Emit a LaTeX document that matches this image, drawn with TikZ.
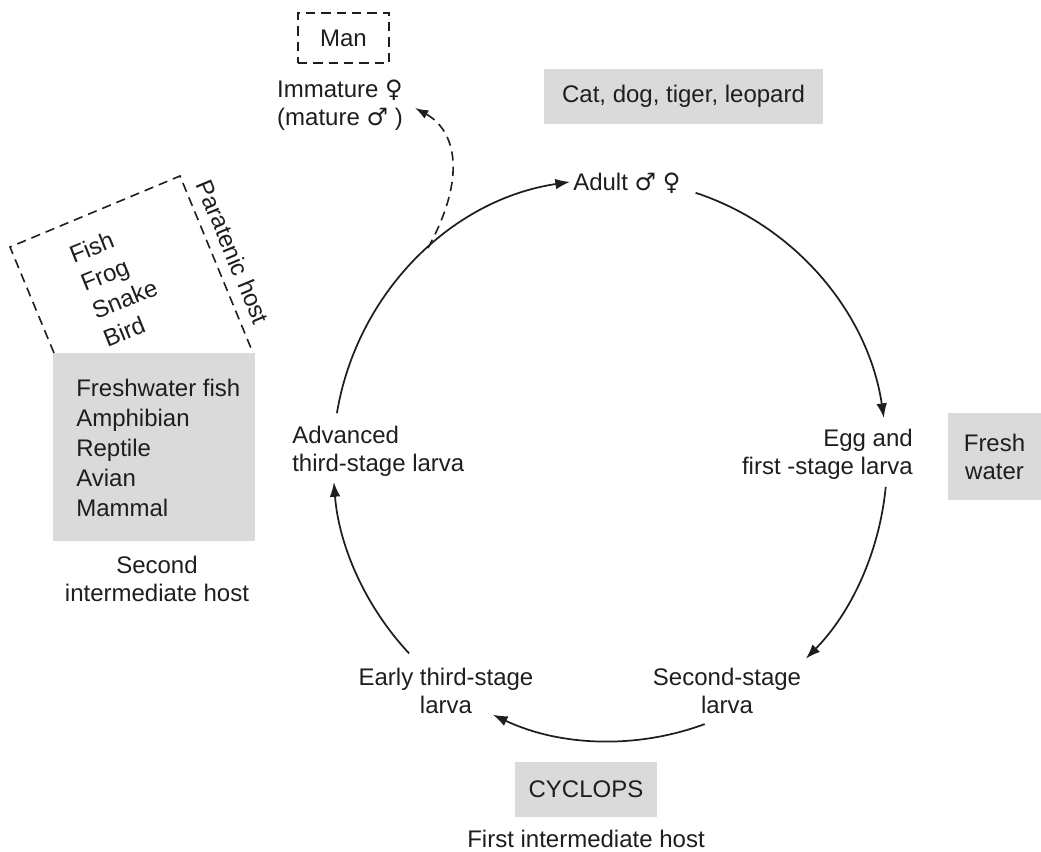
\documentclass[tikz,border=0pt]{standalone}
\usepackage{fontspec}
\setmainfont{Liberation Sans}
\newfontfamily\symfont{DejaVu Sans}
\usetikzlibrary{arrows.meta,calc}
\definecolor{boxgray}{RGB}{218,218,218}
\definecolor{ink}{RGB}{30,30,30}
\newcommand{\malesym}{{\symfont ♂}}
\newcommand{\femsym}{{\symfont ♀}}
\begin{document}
\begin{tikzpicture}[x=0.75pt,y=-0.75pt,
  lbl/.style={font=\fontsize{18}{21}\selectfont, inner sep=0pt, text=ink},
  listlbl/.style={font=\fontsize{18}{22.5}\selectfont, inner sep=0pt, text=ink},
  boxfill/.style={fill=boxgray, draw=none, inner sep=0pt},
  dashline/.style={draw=ink, line width=1.2pt, dash pattern=on 7pt off 4.5pt},
  cycarrow/.style={draw=ink, line width=1.3pt, -{Latex[length=11pt,width=8pt]}},
  dasharrow/.style={dashline, -{Latex[length=10pt,width=7pt]}}]
\useasboundingbox (0,0) rectangle (1041,852);

% grey host boxes
\node[boxfill, lbl, minimum width=209.25pt, minimum height=41.25pt] (catbox) at (683.5,96.5) {Cat, dog, tiger, leopard};
\node[boxfill, lbl, align=center, minimum width=69.75pt, minimum height=65.25pt] (freshbox) at (994.5,456.5) {Fresh\\water};
\node[boxfill, lbl, minimum width=106.5pt, minimum height=41.25pt] (cyclops) at (586,789.5) {CYCLOPS};
\node[boxfill, minimum width=151.5pt, minimum height=141pt] (hostbox) at (154,447) {};
\node[listlbl, align=left, anchor=west] (hosttext) at (76,447.5) {Freshwater fish\\Amphibian\\Reptile\\Avian\\Mammal};
\node[lbl, align=center] (secondhost) at (157,579) {Second\\intermediate host};
\node[lbl] (firsthost) at (586,839) {First intermediate host};

% man
\node[dashline, lbl, minimum width=68.25pt, minimum height=37.5pt] (man) at (343.5,38) {Man};
\node[lbl, align=center] (immature) at (340,105) {Immature \femsym\\(mature \malesym\ )};

% paratenic host
\coordinate (pbl) at (54,353);
\coordinate (ptl) at (10,247);
\coordinate (ptr) at (180,176);
\coordinate (pbr) at (253,353);
\draw[dashline] (pbl) -- (ptl) -- (ptr) -- (pbr);
\node[listlbl, align=left, rotate=22] (paralist) at (119,285) {Fish\\Frog\\Snake\\Bird};
\node[lbl, rotate=-67.5] (paratitle) at (233,252) {Paratenic host};

% stage labels
\node[lbl, anchor=west] (adult) at (573,183) {Adult \malesym\ \femsym};
\node[lbl, align=right, anchor=east] (egg) at (913,454) {Egg and\\first -stage larva};
\node[lbl, align=center] (second) at (727,691) {Second-stage\\larva};
\node[lbl, align=center] (early) at (446,691) {Early third-stage\\larva};
\node[lbl, align=left, anchor=west] (advanced) at (292,451) {Advanced\\third-stage larva};

% cycle arcs (ellipse centre (610,460), radii 277 x 281)
\coordinate (a1) at (336.9,413.1);
\coordinate (a2) at (695.6,192.8);
\coordinate (a3) at (885.7,486.9);
\coordinate (a4) at (704.7,724.1);
\coordinate (a5) at (409.1,653.4);
\draw[cycarrow] (a1) arc[start angle=189.6, end angle=261.7, x radius=277, y radius=281];
\draw[cycarrow] (a2) arc[start angle=288, end angle=351.4, x radius=277, y radius=281];
\draw[cycarrow] (a3) arc[start angle=5.5, end angle=45, x radius=277, y radius=281];
\draw[cycarrow] (a4) arc[start angle=70, end angle=115, x radius=277, y radius=281];
\draw[cycarrow] (a5) arc[start angle=136.5, end angle=175.5, x radius=277, y radius=281];

% dashed arrow to man
\coordinate (dstart) at (428,248);
\coordinate (dend) at (415,108);
\draw[dasharrow] (dstart) .. controls (468,175) and (455,130) .. (dend);
\end{tikzpicture}
\end{document}
